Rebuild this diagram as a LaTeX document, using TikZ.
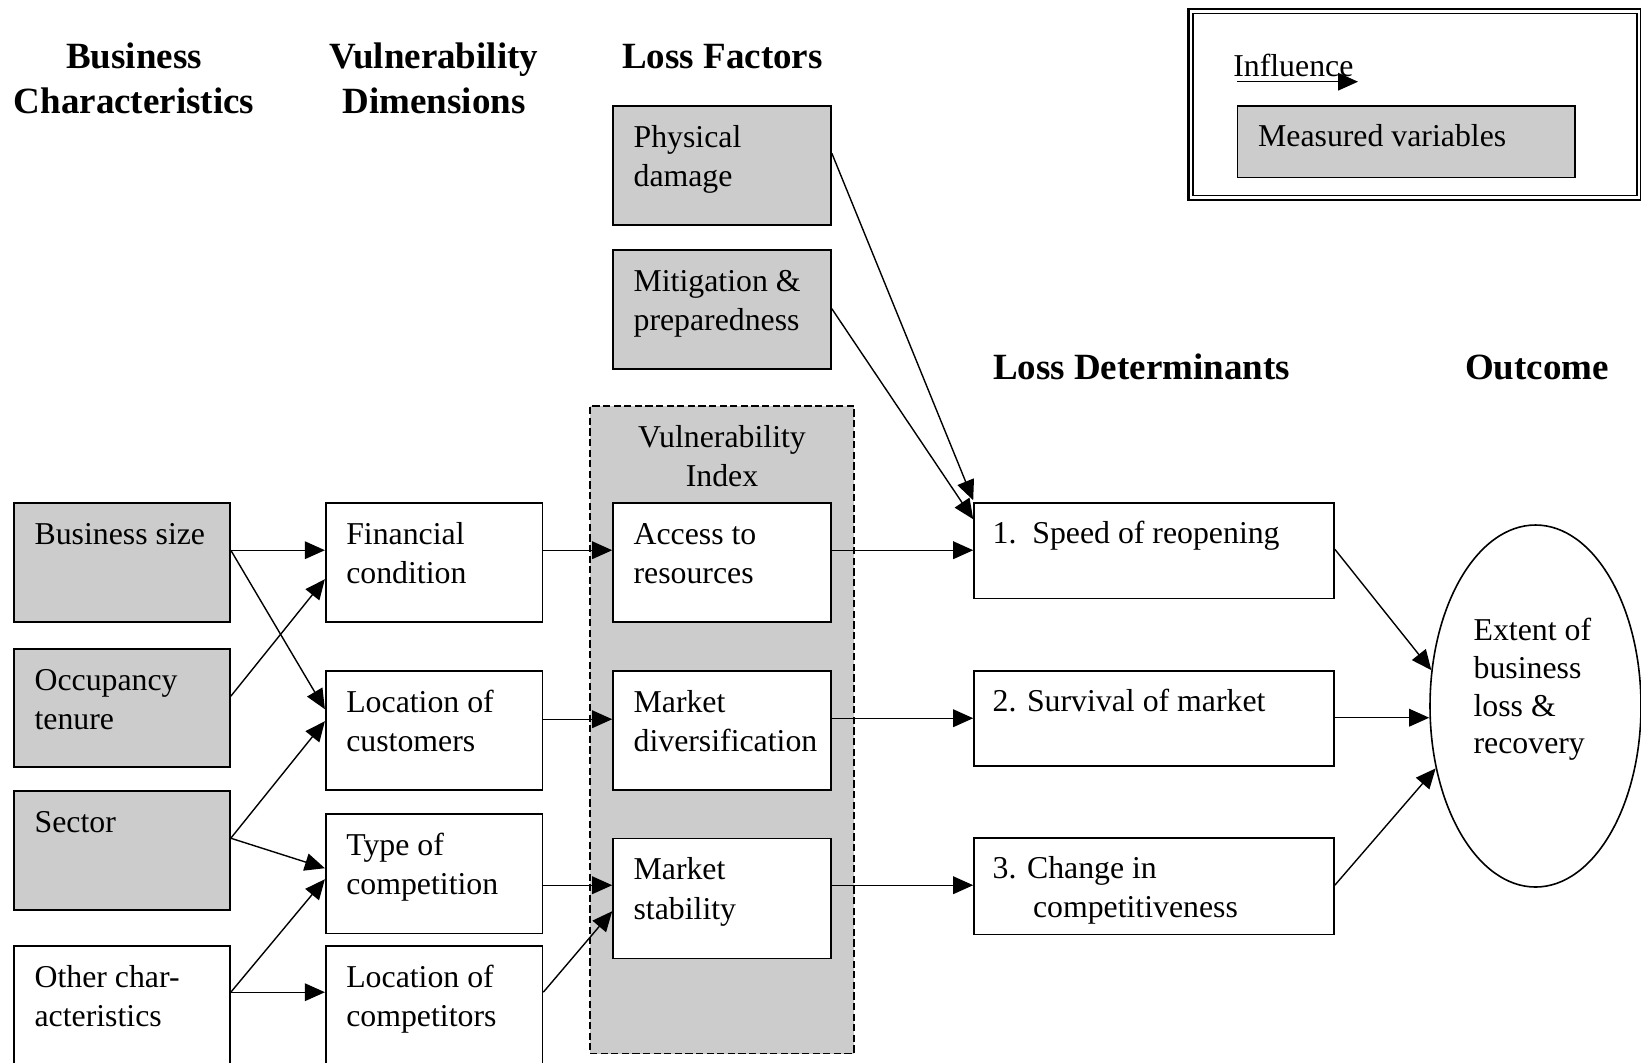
\documentclass[tikz,border=0pt]{standalone}
\usepackage{fontspec}
\setmainfont{Liberation Serif}
\usetikzlibrary{arrows.meta,calc,fit,shapes.geometric}
\definecolor{boxgray}{gray}{0.8}
\newcommand\leftlines[1]{\vtop{\halign{##\hfil\cr#1\crcr}}}
\newcommand\centerlines[1]{\vtop{\halign{\hfil##\hfil\cr#1\crcr}}}
\begin{document}
\begin{tikzpicture}[x=0.5pt,y=-0.5pt,
  box/.style={draw, line width=0.8pt, inner sep=0pt, fill=white},
  gbox/.style={box, fill=boxgray},
  txt/.style={inner sep=0pt, anchor=base west, font=\fontsize{15.9}{19.7}\selectfont},
  ctxt/.style={txt, anchor=base},
  head/.style={inner sep=0pt, anchor=base, font=\fontsize{18.5}{22.8}\selectfont\bfseries},
  arr/.style={-{Triangle[length=10pt,width=8.8pt]}, line width=0.7pt},
]
\useasboundingbox (0,0) rectangle (1641,1062);
\clip (0,0) rectangle (1641,1062);

% headers
\node[head] (h1) at (134,68) {\centerlines{Business\cr Characteristics}};
\node[head] (h2) at (434,68) {\centerlines{Vulnerability\cr Dimensions}};
\node[head] (h3) at (722.5,68) {Loss Factors};
\node[head] (h4) at (1141.5,379) {Loss Determinants};
\node[head] (h5) at (1537,379) {Outcome};

% legend
\node[fit={(1188.5,9)(1641,200)}, draw, inner sep=0pt, line width=1.2pt] (legO) {};
\node[fit={(1193,13.5)(1637,195.5)}, draw, inner sep=0pt, line width=0.6pt] (legI) {};
\node[txt] (inft) at ($(legI.north west)+(40.5,63.5)$) {Influence};
\coordinate (infA) at (1237,81.7);
\coordinate (infB) at (1358,81.7);
\draw[arr] (infA) -- (infB);
\node[gbox, fit={(1237.5,105.7)(1575,177.3)}] (meas) {};
\node[txt] (meast) at ($(meas.north west)+(21,42)$) {Measured variables};

% vulnerability index group
\node[fit={(590,406)(854,1053.5)}, draw, fill=boxgray, inner sep=0pt, line width=0.8pt, dash pattern=on 3.6pt off 1.7pt] (vidx) {};
\node[ctxt] (vidxt) at ($(vidx.north)+(0,42)$) {\centerlines{Vulnerability\cr Index}};

% column 1: business characteristics
\node[gbox, fit={(14,503)(230,622)}] (bsize) {};
\node[gbox, fit={(14,649)(230,767)}] (occ) {};
\node[gbox, fit={(14,791)(230,910)}] (sector) {};
\node[box, fit={(14,946)(230,1080)}] (other) {};
\node[txt] (bsizet) at ($(bsize.north west)+(21,42)$) {Business size};
\node[txt] (occt) at ($(occ.north west)+(21,42)$) {\leftlines{Occupancy\cr tenure}};
\node[txt] (sectort) at ($(sector.north west)+(21,42)$) {Sector};
\node[txt] (othert) at ($(other.north west)+(21,42)$) {\leftlines{Other char-\cr acteristics}};

% column 2: vulnerability dimensions
\node[box, fit={(325.7,503)(542.5,622)}] (fin) {};
\node[box, fit={(325.7,671)(542.5,790)}] (locc) {};
\node[box, fit={(325.7,814)(542.5,933.5)}] (type) {};
\node[box, fit={(325.7,946)(542.5,1080)}] (locp) {};
\node[txt] (fint) at ($(fin.north west)+(21,42)$) {\leftlines{Financial\cr condition}};
\node[txt] (locct) at ($(locc.north west)+(21,42)$) {\leftlines{Location of\cr customers}};
\node[txt] (typet) at ($(type.north west)+(21,42)$) {\leftlines{Type of\cr competition}};
\node[txt] (locpt) at ($(locp.north west)+(21,42)$) {\leftlines{Location of\cr competitors}};

% column 3: loss factors and index
\node[gbox, fit={(613,106)(831,225)}] (phys) {};
\node[gbox, fit={(613,250)(831,369)}] (mitig) {};
\node[box, fit={(613,503)(831,622)}] (access) {};
\node[box, fit={(613,671)(831,790)}] (mdiv) {};
\node[box, fit={(613,838.5)(831,958.3)}] (mstab) {};
\node[txt] (physt) at ($(phys.north west)+(21,42)$) {\leftlines{Physical\cr damage}};
\node[txt] (mitigt) at ($(mitig.north west)+(21,42)$) {\leftlines{Mitigation \&\cr preparedness}};
\node[txt] (accesst) at ($(access.north west)+(21,42)$) {\leftlines{Access to\cr resources}};
\node[txt] (mdivt) at ($(mdiv.north west)+(21,42)$) {\leftlines{Market\cr diversification}};
\node[txt] (mstabt) at ($(mstab.north west)+(21,42)$) {\leftlines{Market\cr stability}};

% column 4: loss determinants
\node[box, fit={(974,503)(1334,598.5)}] (speed) {};
\node[box, fit={(974,671)(1334,766)}] (surv) {};
\node[box, fit={(974,838)(1334,934.5)}] (change) {};
\node[txt] (speedt) at ($(speed.north west)+(19,41)$) {1.\ \ Speed of reopening};
\node[txt] (survt) at ($(surv.north west)+(19,41)$) {2. Survival of market};
\node[txt] (changet) at ($(change.north west)+(19,41)$) {\leftlines{3. Change in\cr \hspace*{20.2pt}competitiveness}};

% outcome
\node[ellipse, draw, line width=0.8pt, inner sep=0pt, minimum width=105.5pt, minimum height=181pt] (out) at (1535.5,706) {};
\node[txt, font=\fontsize{15.9}{18.9}\selectfont] (outt) at ($(out.west)+(44,-65.5)$) {\leftlines{Extent of\cr business\cr loss \&\cr recovery}};

% connectors: characteristics -> dimensions
\draw[arr] ($(bsize.north east)+(0,48)$) -- ($(fin.north west)+(0,48)$);
\draw[arr] ($(bsize.north east)+(0,48)$) -- ($(locc.north west)+(0,39)$);
\draw[arr] ($(occ.north east)+(0,48)$) -- ($(fin.north west)+(0,77)$);
\draw[arr] ($(sector.north east)+(0,48)$) -- ($(locc.north west)+(0,51)$);
\draw[arr] ($(sector.north east)+(0,48)$) -- ($(type.north west)+(0,55)$);
\draw[arr] ($(other.north east)+(0,47)$) -- ($(type.north west)+(0,66)$);
\draw[arr] ($(other.north east)+(0,47)$) -- ($(locp.north west)+(0,47)$);

% dimensions -> index
\draw[arr] ($(fin.north east)+(0,48)$) -- ($(access.north west)+(0,48)$);
\draw[arr] ($(locc.north east)+(0,49)$) -- ($(mdiv.north west)+(0,49)$);
\draw[arr] ($(type.north east)+(0,72)$) coordinate (tA) -- (tA -| mstab.west);
\draw[arr] ($(locp.north east)+(0,47)$) -- ($(mstab.north west)+(0,73.5)$);

% index / factors -> determinants
\draw[arr] ($(access.north east)+(0,48)$) coordinate (aA) -- (aA -| speed.west);
\draw[arr] ($(mdiv.north east)+(0,48)$) coordinate (mA) -- (mA -| surv.west);
\draw[arr] ($(mstab.north east)+(0,47.5)$) coordinate (sA) -- (sA -| change.west);
\draw[arr] ($(phys.north east)+(0,48)$) -- ($(speed.north west)+(0,-2)$);
\draw[arr] ($(mitig.north east)+(0,59.5)$) -- ($(speed.north west)+(0,17)$);

% determinants -> outcome
\draw[arr] ($(speed.north east)+(0,47)$) -- (out.161);
\draw[arr] ($(surv.north east)+(0,47.5)$) coordinate (vA) -- (vA -| out.west);
\draw[arr] ($(change.north east)+(0,48)$) -- (out.212);
\end{tikzpicture}
\end{document}
